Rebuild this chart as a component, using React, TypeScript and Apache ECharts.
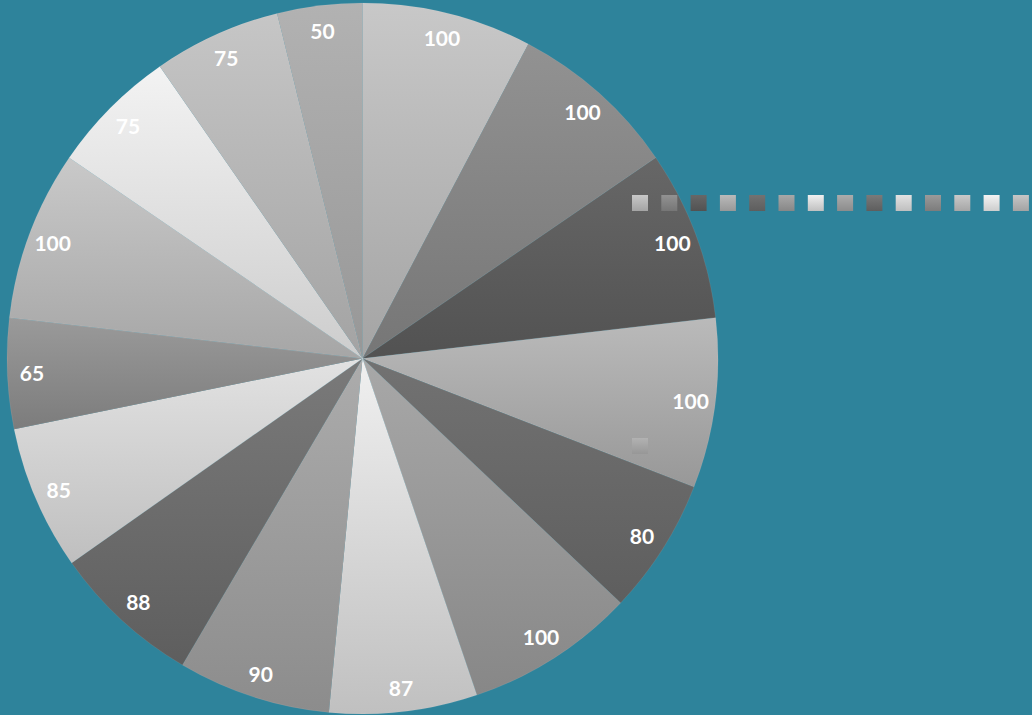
import React, { useEffect, useRef } from "react";
import * as echarts from "echarts";

const categories = ["1", "2", "3", "4", "5", "6", "7", "8", "9", "10", "11", "12", "13", "14", "15"];
const values = [100, 100, 100, 100, 80, 100, 87, 90, 88, 85, 65, 100, 75, 75, 50];
const topColors = ["#c8c8c8", "#929292", "#676767", "#bababa", "#727272", "#a8a8a8", "#f0f0f0", "#acacac", "#7a7a7a", "#e2e2e2", "#9a9a9a", "#c9c9c9", "#f3f3f3", "#c6c6c6", "#b2b2b2"];
const bottomColors = ["#a4a4a4", "#767676", "#525252", "#989898", "#5e5e5e", "#878787", "#c0c0c0", "#8c8c8c", "#5e5e5e", "#bfbfbf", "#7c7c7c", "#a6a6a6", "#cdcdcd", "#a3a3a3", "#979797"];

export default function App() {
  const ref = useRef<HTMLDivElement>(null);
  useEffect(() => {
    document.body.style.margin = "0";
    const chart = echarts.init(ref.current!, null, { renderer: "svg" });
    const grad = (i: number) =>
      new echarts.graphic.LinearGradient(0, 0, 0, 1, [
        { offset: 0, color: topColors[i] },
        { offset: 1, color: bottomColors[i] },
      ]);
    const colored = categories.map((c, i) => ({
      name: c,
      value: values[i],
      itemStyle: { color: grad(i) },
    }));
    const labelData = categories.map((c, i) => ({ name: c, value: values[i] }));
    const legendBase = {
      orient: "horizontal",
      left: 632,
      width: 400,
      padding: 0,
      itemWidth: 16,
      itemHeight: 16,
      itemGap: 13.3,
      formatter: () => "",
      selectedMode: false,
      icon: "rect",
      itemStyle: { borderWidth: 0 },
    };
    chart.setOption({
      animation: false,
      backgroundColor: "#2e839b",
      legend: [
        { ...legendBase, data: categories.slice(0, 14), top: 195 },
        { ...legendBase, data: categories.slice(14), top: 438 },
      ],
      series: [
        {
          type: "pie",
          center: [362.5, 358.5],
          radius: [0, 355.5],
          startAngle: 90,
          clockwise: true,
          label: { show: false },
          labelLine: { show: false },
          itemStyle: { borderColor: "rgba(255,255,255,0.12)", borderWidth: 0.6 },
          emphasis: { disabled: true },
          data: colored,
        },
        {
          type: "pie",
          center: [362.5, 358.5],
          radius: [300, 355.5],
          startAngle: 90,
          clockwise: true,
          silent: true,
          itemStyle: { color: "rgba(0,0,0,0)" },
          label: {
            show: true,
            position: "inside",
            color: "#ffffff",
            fontFamily: "Lato",
            fontSize: 21,
            fontWeight: "bold",
            formatter: (p: any) => String(p.value),
          },
          labelLine: { show: false },
          emphasis: { disabled: true },
          data: labelData,
        },
      ],
    });
    return () => chart.dispose();
  }, []);
  return <div ref={ref} style={{ width: 1032, height: 715 }} />;
}
